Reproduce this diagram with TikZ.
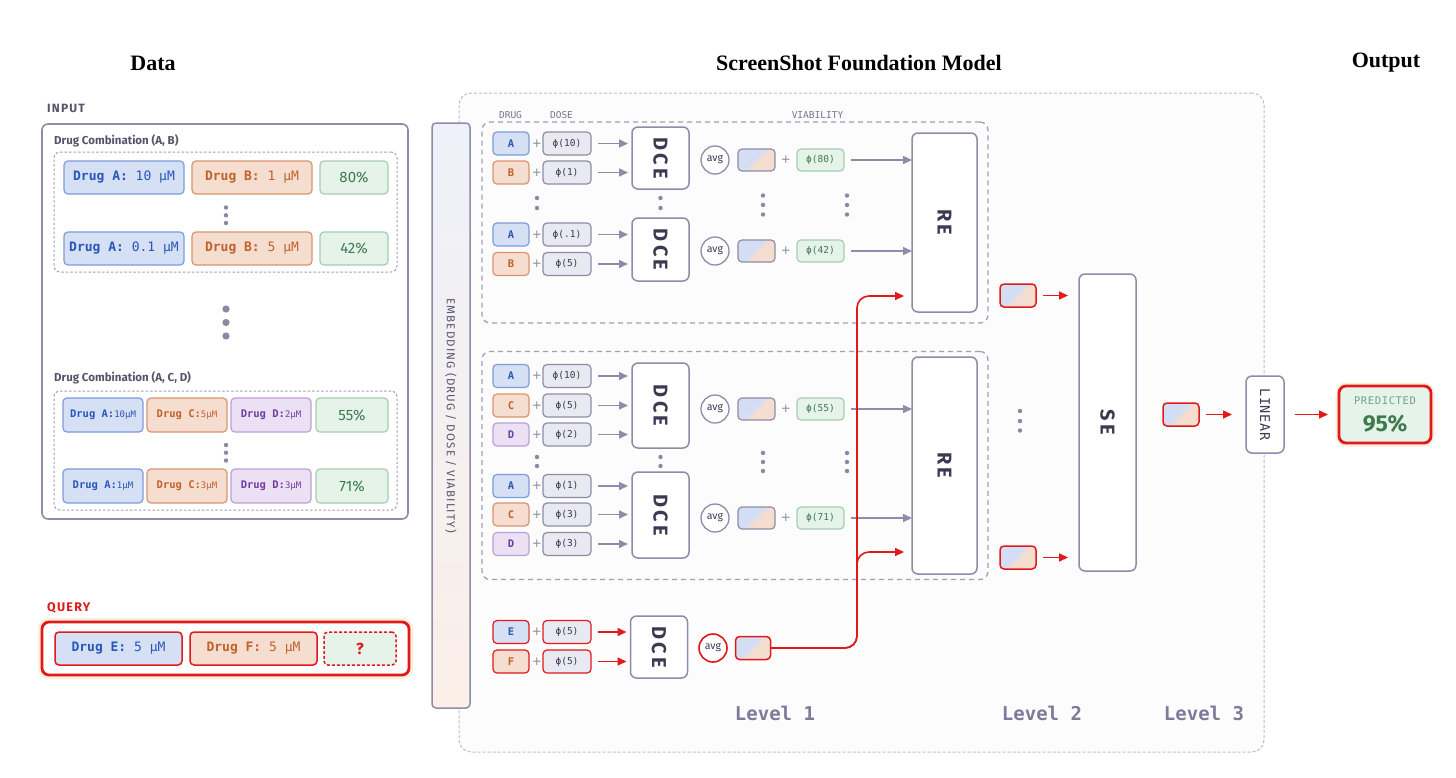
\documentclass[tikz,border=0pt]{standalone}
\usepackage{fontspec}
\setmainfont{Liberation Serif}
\setsansfont{Fira Sans}
\newfontfamily\mono{DejaVu Sans Mono}
\newfontfamily\sanssp{Fira Sans}[LetterSpace=10]
\newfontfamily\enctfont{Fira Sans}[LetterSpace=16]
\newfontfamily\monosp{DejaVu Sans Mono}[LetterSpace=6]
\newfontfamily\plusfont{DejaVu Sans}
\usetikzlibrary{arrows.meta}
\newcommand\fsz[1]{\fontsize{#1}{#1}\selectfont}
\definecolor{cgray}{HTML}{8E8CA8}
\definecolor{cdark}{HTML}{3B3A52}
\definecolor{clabel}{HTML}{55546B}
\definecolor{chead}{HTML}{77768E}
\definecolor{cdash}{HTML}{A09FB5}
\definecolor{cfm}{HTML}{BDBCCD}
\definecolor{cfmfill}{HTML}{FCFCFD}
\definecolor{cblue}{HTML}{D5E0F5}
\definecolor{cblueS}{HTML}{7C9CDA}
\definecolor{cblueT}{HTML}{2A56B8}
\definecolor{corg}{HTML}{F5DDD0}
\definecolor{corgS}{HTML}{D9946F}
\definecolor{corgT}{HTML}{C1622B}
\definecolor{cpur}{HTML}{ECE0F4}
\definecolor{cpurS}{HTML}{BC9FD6}
\definecolor{cpurT}{HTML}{6E3D9E}
\definecolor{cgrn}{HTML}{E5F3E9}
\definecolor{cgrnS}{HTML}{A6CDB3}
\definecolor{cgrnT}{HTML}{3E7A50}
\definecolor{cgrnL}{HTML}{6DA57F}
\definecolor{clav}{HTML}{E9E9F2}
\definecolor{cred}{HTML}{E0191B}
\definecolor{clevel}{HTML}{7D7B99}
\definecolor{cdot}{HTML}{8A88A2}
\definecolor{cplus}{HTML}{8A8AA0}
\definecolor{cglow}{HTML}{FBEEDC}
\definecolor{gblue}{HTML}{D3DEF5}
\definecolor{gpeach}{HTML}{F5DDD0}
\definecolor{embtop}{HTML}{EEF1F9}
\definecolor{embbot}{HTML}{FBEFE8}
\pgfdeclarehorizontalshading{splitsh}{100bp}{color(0bp)=(gblue); color(46bp)=(gblue); color(54bp)=(gpeach); color(100bp)=(gpeach)}
\begin{document}
\begin{tikzpicture}[x=1pt,y=-1pt,
  wh/.style 2 args={minimum width=#1pt, minimum height=#2pt},
  bx/.style={rounded corners=4pt, line width=1.2pt, inner sep=0pt, outer sep=0pt},
  bluebox/.style={bx, draw=cblueS, fill=cblue, text=cblueT},
  orgbox/.style={bx, draw=corgS, fill=corg, text=corgT},
  purbox/.style={bx, draw=cpurS, fill=cpur, text=cpurT},
  grnbox/.style={bx, draw=cgrnS, fill=cgrn, text=cgrnT},
  phibox/.style={bx, draw=cgray, fill=clav, text=cdark, wh={48}{23}, font=\mono\fsz{9.5}},
  letbox/.style={wh={36}{23}, font=\mono\bfseries\fsz{10.5}},
  plus/.style={font=\plusfont\fsz{12}, text=cplus, inner sep=0pt},
  enc/.style={bx, draw=cgray, line width=1.5pt, fill=white, rounded corners=6pt},
  enct/.style={rotate=-90, font=\enctfont\bfseries\fsz{20}, text=cdark, inner sep=0pt},
  avg/.style={circle, draw=cgray, line width=1.3pt, fill=white, minimum size=28pt, inner sep=0pt, font=\sffamily\fsz{10.5}, text=cdark},
  grad/.style={bx, draw=cgray, shade, shading=splitsh, shading angle=-45, wh={37}{22}},
  garrow/.style={draw=cgray, line width=1.5pt, -{Triangle[length=9pt,width=8pt]}},
  rarrow/.style={draw=cred, line width=1.6pt, -{Triangle[length=9pt,width=8pt]}},
  combo/.style={draw=cdash, line width=1pt, dash pattern=on 2.5pt off 2pt, rounded corners=6pt, inner sep=0pt},
  group/.style={draw=cdash, line width=1.3pt, dash pattern=on 5pt off 4pt, rounded corners=8pt, inner sep=0pt},
  head/.style={font=\mono\fsz{9.5}, text=chead, inner sep=0pt},
  lvl/.style={font=\mono\bfseries\fsz{19}, text=clevel, inner sep=0pt},
  dot/.style={fill=cdot}
]
\useasboundingbox (0,0) rectangle (1456,777);
\fill[white] (0,0) rectangle (1456,777);

% titles
\node[font=\bfseries\fsz{22}] (tdata) at (153,63) {Data};
\node[font=\bfseries\fsz{22}] (tfm) at (859,63) {ScreenShot Foundation Model};
\node[font=\bfseries\fsz{22}] (tout) at (1386,63) {Output};

% ---------------- Data panel
\node[anchor=west, font=\sanssp\bfseries\fsz{12}, text=clabel, inner sep=0pt] (inlbl) at (47,108) {INPUT};
\node[draw=cgray, line width=1.6pt, rounded corners=6pt, fill=white, inner sep=0pt, wh={366}{395}] (inbox) at (225,321.5) {};
\node[anchor=west, font=\sffamily\bfseries\fsz{11.5}, text=clabel, inner sep=0pt] (c1lbl) at (54,141) {Drug Combination (A, B)};
\node[combo, wh={343}{120}] (c1box) at (225.5,212) {};
\node[bluebox, wh={120}{33}, font=\mono\fsz{13}] (r1a) at (124,177.5) {\textbf{Drug A:} 10 µM};
\node[orgbox, wh={120}{33}, font=\mono\fsz{13}] (r1b) at (252,177.5) {\textbf{Drug B:} 1 µM};
\node[grnbox, wh={68}{33}, font=\sffamily\fsz{15}] (r1v) at (354,177.5) {80\%};
\fill[dot] (226,207.5) circle (2.2pt) (226,215.3) circle (2.2pt) (226,223) circle (2.2pt);
\node[bluebox, wh={120}{33}, font=\mono\fsz{13}] (r2a) at (124,248.5) {\textbf{Drug A:} 0.1 µM};
\node[orgbox, wh={120}{33}, font=\mono\fsz{13}] (r2b) at (252,248.5) {\textbf{Drug B:} 5 µM};
\node[grnbox, wh={68}{33}, font=\sffamily\fsz{15}] (r2v) at (354,248.5) {42\%};
\fill[dot] (226,309) circle (3.6pt) (226,322.5) circle (3.6pt) (226,336) circle (3.6pt);

\node[anchor=west, font=\sffamily\bfseries\fsz{11.5}, text=clabel, inner sep=0pt] (c2lbl) at (54,378) {Drug Combination (A, C, D)};
\node[combo, wh={343}{119}] (c2box) at (225.5,450.5) {};
\node[bluebox, wh={80}{34}] (s1a) at (103,415) {\mono\fsz{10.5}\textbf{Drug A:}\fsz{9}10µM};
\node[orgbox, wh={80}{34}] (s1c) at (187,415) {\mono\fsz{10.5}\textbf{Drug C:}\fsz{9}5µM};
\node[purbox, wh={80}{34}] (s1d) at (271,415) {\mono\fsz{10.5}\textbf{Drug D:}\fsz{9}2µM};
\node[grnbox, wh={72}{34}, font=\sffamily\fsz{15}] (s1v) at (352,415) {55\%};
\fill[dot] (226,445) circle (2.2pt) (226,452.7) circle (2.2pt) (226,460.5) circle (2.2pt);
\node[bluebox, wh={80}{34}] (s2a) at (103,486) {\mono\fsz{10.5}\textbf{Drug A:}\fsz{9}1µM};
\node[orgbox, wh={80}{34}] (s2c) at (187,486) {\mono\fsz{10.5}\textbf{Drug C:}\fsz{9}3µM};
\node[purbox, wh={80}{34}] (s2d) at (271,486) {\mono\fsz{10.5}\textbf{Drug D:}\fsz{9}3µM};
\node[grnbox, wh={72}{34}, font=\sffamily\fsz{15}] (s2v) at (352,486) {71\%};

% query
\node[anchor=west, font=\sanssp\bfseries\fsz{12.5}, text=cred, inner sep=0pt] (qlbl) at (47,608) {QUERY};
\node[draw=cred, line width=2.8pt, rounded corners=7pt, fill=white, inner sep=0pt, wh={367}{53},
      preaction={draw=cglow, line width=8pt}] (qbox) at (225.5,648.5) {};
\node[bx, draw=cred, fill=cblue, text=cblueT, line width=1.5pt, wh={127}{33}, font=\mono\fsz{13}] (qe) at (118.5,648.5) {\textbf{Drug E:} 5 µM};
\node[bx, draw=cred, fill=corg, text=corgT, line width=1.5pt, wh={127}{33}, font=\mono\fsz{13}] (qf) at (253.5,648.5) {\textbf{Drug F:} 5 µM};
\node[bx, draw=cred, fill=cgrn, text=cred, line width=1.5pt, dash pattern=on 3pt off 2pt, wh={72}{33}, font=\sffamily\bfseries\fsz{16}] (qq) at (360,648.5) {?};

% ---------------- Foundation model frame
\node[draw=cfm, fill=cfmfill, line width=1pt, dash pattern=on 3pt off 2pt, rounded corners=12pt, inner sep=0pt, wh={805}{659}] (fm) at (861.5,422.5) {};
% embedding bar
\node[bx, draw=cgray, line width=1.5pt, top color=embtop, bottom color=embbot, wh={38}{585}] (emb) at (451,415.5) {};
\node[rotate=-90, font=\sanssp\fsz{11.5}, text=clabel, inner sep=0pt] (embt) at (emb) {EMBEDDING (DRUG / DOSE / VIABILITY)};

% headers
\node[head] (hdrug) at (510.5,115.5) {DRUG};
\node[head] (hdose) at (561.5,115.5) {DOSE};
\node[head] (hvia) at (817.5,115.5) {VIABILITY};

% ---------- top group
\node[group, wh={506}{201}] (g1) at (735,222.5) {};
\node[bluebox, letbox] (ta1) at (511,143.5) {A};
\node[plus] (tpa1) at (537,143.5) {+};
\node[phibox] (tpha1) at (567,143.5) {ϕ(10)};
\node[orgbox, letbox] (tb1) at (511,172.5) {B};
\node[plus] (tpb1) at (537,172.5) {+};
\node[phibox] (tphb1) at (567,172.5) {ϕ(1)};
\node[enc, wh={57}{62}] (dce1) at (660.5,158) {};
\node[enct] (dce1t) at (dce1) {DCE};
\fill[dot] (537,198) circle (2.2pt) (537,208) circle (2.2pt) (660.5,198) circle (2.2pt) (660.5,208) circle (2.2pt);
\node[bluebox, letbox] (ta2) at (511,234.5) {A};
\node[plus] (tpa2) at (537,234.5) {+};
\node[phibox] (tpha2) at (567,234.5) {ϕ(.1)};
\node[orgbox, letbox] (tb2) at (511,264) {B};
\node[plus] (tpb2) at (537,264) {+};
\node[phibox] (tphb2) at (567,264) {ϕ(5)};
\node[enc, wh={57}{63}] (dce2) at (660.5,249.5) {};
\node[enct] (dce2t) at (dce2) {DCE};
\foreach \p/\d in {tpha1/dce1,tphb1/dce1,tpha2/dce2,tphb2/dce2}
  \draw[garrow, shorten <=7pt, shorten >=4pt] (\p.east) -- (\p.east -| \d.west);

\node[avg] (avg1) at (715,160) {avg};
\node[grad] (gr1) at (756.5,160) {};
\node[plus] (tpv1) at (786,160) {+};
\node[grnbox, wh={47}{22}, font=\mono\fsz{9.5}] (v80) at (820.5,160) {ϕ(80)};
\node[avg] (avg2) at (715,251) {avg};
\node[grad] (gr2) at (756.5,251) {};
\node[plus] (tpv2) at (786,251) {+};
\node[grnbox, wh={47}{22}, font=\mono\fsz{9.5}] (v42) at (820.5,251) {ϕ(42)};
\fill[dot] (763,195.5) circle (2.2pt) (763,205) circle (2.2pt) (763,214.5) circle (2.2pt)
           (847,195.5) circle (2.2pt) (847,205) circle (2.2pt) (847,214.5) circle (2.2pt);
\node[enc, wh={65}{179}] (re1) at (944.5,222.5) {};
\node[enct] (re1t) at (re1) {RE};
\draw[garrow, shorten <=7pt] (v80.east) -- (v80.east -| re1.west);
\draw[garrow, shorten <=7pt] (v42.east) -- (v42.east -| re1.west);

% ---------- bottom group
\node[group, wh={506}{228}] (g2) at (735,465.5) {};
\node[bluebox, letbox] (ba1) at (511,376) {A};
\node[plus] (bpa1) at (537,376) {+};
\node[phibox] (bpha1) at (567,376) {ϕ(10)};
\node[orgbox, letbox] (bc1) at (511,405.5) {C};
\node[plus] (bpc1) at (537,405.5) {+};
\node[phibox] (bphc1) at (567,405.5) {ϕ(5)};
\node[purbox, letbox] (bd1) at (511,434.5) {D};
\node[plus] (bpd1) at (537,434.5) {+};
\node[phibox] (bphd1) at (567,434.5) {ϕ(2)};
\node[enc, wh={57}{85}] (dce3) at (660.5,405.5) {};
\node[enct] (dce3t) at (dce3) {DCE};
\fill[dot] (537,457) circle (2.2pt) (537,466) circle (2.2pt) (660.5,457) circle (2.2pt) (660.5,466) circle (2.2pt);
\node[bluebox, letbox] (ba2) at (511,486) {A};
\node[plus] (bpa2) at (537,486) {+};
\node[phibox] (bpha2) at (567,486) {ϕ(1)};
\node[orgbox, letbox] (bc2) at (511,514.5) {C};
\node[plus] (bpc2) at (537,514.5) {+};
\node[phibox] (bphc2) at (567,514.5) {ϕ(3)};
\node[purbox, letbox] (bd2) at (511,544) {D};
\node[plus] (bpd2) at (537,544) {+};
\node[phibox] (bphd2) at (567,544) {ϕ(3)};
\node[enc, wh={57}{86}] (dce4) at (660.5,515) {};
\node[enct] (dce4t) at (dce4) {DCE};
\foreach \p/\d in {bpha1/dce3,bphc1/dce3,bphd1/dce3,bpha2/dce4,bphc2/dce4,bphd2/dce4}
  \draw[garrow, shorten <=7pt, shorten >=4pt] (\p.east) -- (\p.east -| \d.west);

\node[avg] (avg3) at (715,409) {avg};
\node[grad] (gr3) at (756.5,409) {};
\node[plus] (bpv1) at (786,409) {+};
\node[grnbox, wh={47}{22}, font=\mono\fsz{9.5}] (v55) at (820.5,409) {ϕ(55)};
\node[avg] (avg4) at (715,518) {avg};
\node[grad] (gr4) at (756.5,518) {};
\node[plus] (bpv2) at (786,518) {+};
\node[grnbox, wh={47}{22}, font=\mono\fsz{9.5}] (v71) at (820.5,518) {ϕ(71)};
\fill[dot] (763,453) circle (2.2pt) (763,462) circle (2.2pt) (763,471) circle (2.2pt)
           (847,453) circle (2.2pt) (847,462) circle (2.2pt) (847,471) circle (2.2pt);
\node[enc, wh={65}{217}] (re2) at (944.5,465.5) {};
\node[enct] (re2t) at (re2) {RE};
\draw[garrow, shorten <=7pt] (v55.east) -- (v55.east -| re2.west);
\draw[garrow, shorten <=7pt] (v71.east) -- (v71.east -| re2.west);

% ---------- query path
\node[bx, draw=cred, fill=cblue, text=cblueT, letbox] (qe1) at (511,632) {E};
\node[plus] (qpe) at (537,632) {+};
\node[phibox, draw=cred] (qphe) at (567,632) {ϕ(5)};
\node[bx, draw=cred, fill=corg, text=corgT, letbox] (qf1) at (511,661.5) {F};
\node[plus] (qpf) at (537,661.5) {+};
\node[phibox, draw=cred] (qphf) at (567,661.5) {ϕ(5)};
\node[enc, wh={57}{62}] (dce5) at (659,647) {};
\node[enct] (dce5t) at (dce5) {DCE};
\draw[rarrow, shorten <=7pt, shorten >=4pt] (qphe.east) -- (qphe.east -| dce5.west);
\draw[rarrow, shorten <=7pt, shorten >=4pt] (qphf.east) -- (qphf.east -| dce5.west);
\node[avg, draw=cred, line width=1.6pt] (avg5) at (713,648) {avg};
\node[grad, draw=cred, line width=1.5pt, wh={35}{23}] (gr5) at (753,648) {};
\coordinate (in1) at (904,296);
\coordinate (in2) at (904,552);
\coordinate (vx) at (857,0);
\draw[rarrow, rounded corners=12pt] (gr5.east) -| (vx |- in1) -- (in1);
\draw[rarrow, rounded corners=12pt] (gr5.east) -| (vx |- in2) -- (in2);

% ---------- level 2 / 3
\node[grad, draw=cred, line width=1.5pt, wh={36}{23}] (go1) at (1018,295.5) {};
\node[grad, draw=cred, line width=1.5pt, wh={36}{23}] (go2) at (1018,557.5) {};
\fill[dot] (1020,411) circle (2.2pt) (1020,421) circle (2.2pt) (1020,430.5) circle (2.2pt);
\node[enc, wh={57}{297}] (se) at (1107.5,422.5) {};
\node[enct] (set) at (se) {SE};
\draw[rarrow, shorten <=7pt, shorten >=11pt] (go1.east) -- (go1.east -| se.west);
\draw[rarrow, shorten <=7pt, shorten >=11pt] (go2.east) -- (go2.east -| se.west);
\node[grad, draw=cred, line width=1.5pt, wh={36}{23}] (go3) at (1181,414.5) {};
\node[enc, wh={38}{77}] (lin) at (1265,414.5) {};
\node[rotate=-90, font=\monosp\fsz{13.5}, text=cdark, inner sep=0pt] (lint) at (lin) {LINEAR};
\draw[rarrow, shorten <=7pt, shorten >=14pt] (go3.east) -- (go3.east -| lin.west);
\node[bx, draw=cred, line width=2.8pt, rounded corners=7pt, fill=cgrn, wh={92}{57},
      preaction={draw=cglow, line width=7pt}] (pred) at (1385,414.5) {};
\node[font=\monosp\fsz{10.5}, text=cgrnL, inner sep=0pt] (predt) at (1385,401) {PREDICTED};
\node[font=\sffamily\bfseries\fsz{23}, text=cgrnT, inner sep=0pt] (predv) at (1385,424) {95\%};
\draw[rarrow, shorten <=11pt, shorten >=11pt] (lin.east) -- (lin.east -| pred.west);

% levels
\node[lvl] (lv1) at (775,713) {Level 1};
\node[lvl] (lv2) at (1042,713) {Level 2};
\node[lvl] (lv3) at (1204,713) {Level 3};
\end{tikzpicture}
\end{document}
